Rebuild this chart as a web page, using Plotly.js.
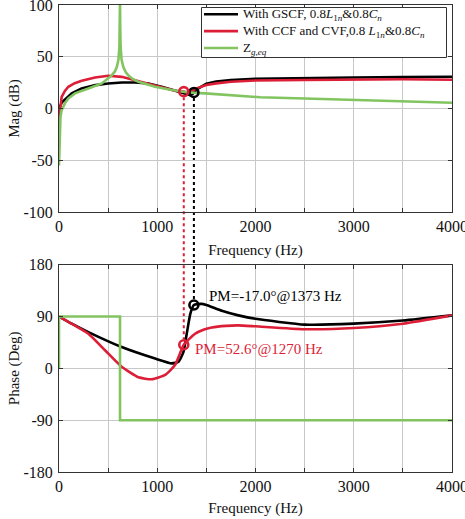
<!DOCTYPE html>
<html>
<head>
<meta charset="utf-8">
<script src="https://cdn.plot.ly/plotly-3.0.1.min.js"></script>
<style>html,body{margin:0;padding:0;background:#fff;}#chart{width:465px;height:519px;}</style>
</head>
<body>
<div id="chart"></div>
<script>
// ---- Magnitude data (dB) ----
const fMagBlack = [0,10,30,60,130,230,370,500,640,775,910,1045,1180,1250,1300,1335,1360,1373,1420,1450,1500,1600,1750,2000,2500,3000,3500,4000];
const magBlack  = [-15,2,6,8.5,14.6,19.4,22.6,24.2,25.2,25.2,24.2,21,17,15,13.6,13,14,15.5,19.5,21.5,24,26,27.5,28.8,29.6,30,30.4,30.7];

const fMagRed = [0,10,27,60,95,160,231,367,500,638,774,910,1046,1181,1270,1300,1350,1400,1500,1600,1750,2000,2500,3000,3500,4000];
const magRed  = [-12,0,11.3,17,21,24.5,26.8,30,31.6,30.6,27.4,24.2,21,17.1,16.3,15.8,17,19.5,22.8,24.3,25.8,27,27.6,28,28.2,27.8];

const fMagGreen = [0,5,15,27,60,95,163,299,435,537,570,588,605,615,619,621,623,627,637,655,680,706,750,808,978,1148,1318,1487,1750,2047,2500,3000,3500,4000];
const magGreen  = [-55,-25,-8,-1.5,5,9.7,14.6,19.4,24.2,32,36,40,47,60,80,105,80,60,47,40,35,32,28.5,25.8,21,17.8,15.5,14.6,12.8,10.9,9.6,8.2,6.8,5.6];

// ---- Phase data (deg) ----
const fPhBlack = [0,129,299,638,978,1148,1216,1267,1300,1337,1373,1450,1500,1657,1826,2000,2500,3000,3500,4000];
const phBlack  = [90,77.6,63,37,17,8.6,11.4,28.6,60,95,110,112,110,100,92,86,76,77.6,83,92];

const fPhRed = [0,129,299,468,638,808,944,1080,1181,1270,1385,1470,1555,1700,1826,2000,2500,3000,3500,4000];
const phRed  = [90,77.6,60,31.5,2.8,-15.5,-19,-11.5,5.7,41,60,67,71,73.8,74.6,73,68,70,77.6,92];

const fPhGreen = [0,0,621,621,4000];
const phGreen  = [0,90,90,-90,-90];

// ---- Phase-margin markers ----
const pmFreq   = [1373, 1270];
const pmMag    = [15.5, 16.3];
const pmPhase  = [110, 41];
const pmLabels = ['PM=-17.0°@1373 Hz', 'PM=52.6°@1270 Hz'];

// ---- Ticks ----
const magTicks = [-100,-50,0,50,100];
const magTickText = ['-100','-50','0','50','100'];
const phTicks = [-180,-90,0,90,180];
const phTickText = ['-180','-90','0','90','180'];

const names = [
  'With GSCF, 0.8<i>L</i><sub>1<i>n</i></sub>&amp;0.8<i>C</i><sub><i>n</i></sub>',
  'With CCF and CVF,0.8 <i>L</i><sub>1<i>n</i></sub>&amp;0.8<i>C</i><sub><i>n</i></sub>',
  'Z<sub><i>g,eq</i></sub>'
];

const BLACK = '#000000', RED = '#dc1e37', GREEN = '#82c460';
const COLORS = [BLACK, RED, GREEN];
const FONT = 'Liberation Serif, Times New Roman, serif';

const topDom = [0.5567, 1], botDom = [0, 0.4439];
const magRange = [-100, 100], phRange = [-180, 180];
function toPaper(v, r, d){ return d[0] + (v - r[0]) / (r[1] - r[0]) * (d[1] - d[0]); }
// pixel -> paper helpers for the legend box (plot area 59..452 x, 5..472 y)
const PX = px => (px - 59) / 393;
const PY = py => (472 - py) / 467;

const traces = [
  {x: fMagBlack, y: magBlack, xaxis:'x', yaxis:'y', mode:'lines', line:{color:BLACK, width:2.6}, name:names[0]},
  {x: fMagRed, y: magRed, xaxis:'x', yaxis:'y', mode:'lines', line:{color:RED, width:2.6}, name:names[1]},
  {x: fMagGreen, y: magGreen, xaxis:'x', yaxis:'y', mode:'lines', line:{color:GREEN, width:2.6}, name:names[2]},
  {x: fPhBlack, y: phBlack, xaxis:'x2', yaxis:'y2', mode:'lines', line:{color:BLACK, width:2.6, shape:'spline', smoothing:0.5}, name:names[0]},
  {x: fPhRed, y: phRed, xaxis:'x2', yaxis:'y2', mode:'lines', line:{color:RED, width:2.6, shape:'spline', smoothing:0.5}, name:names[1]},
  {x: fPhGreen, y: phGreen, xaxis:'x2', yaxis:'y2', mode:'lines', line:{color:GREEN, width:2.6}, name:names[2]},
  {x: pmFreq, y: pmMag, xaxis:'x', yaxis:'y', mode:'markers',
   marker:{symbol:'circle-open', size:9, color:[BLACK, RED], line:{width:2.6}}},
  {x: pmFreq, y: pmPhase, xaxis:'x2', yaxis:'y2', mode:'markers',
   marker:{symbol:'circle-open', size:9, color:[BLACK, RED], line:{width:2.6}}}
];

const shapes = pmFreq.map((f, i) => ({
  type:'line', xref:'x', yref:'paper', x0:f, x1:f,
  y0: toPaper(pmMag[i], magRange, topDom) - 0.012,
  y1: toPaper(pmPhase[i], phRange, botDom) + 0.012,
  line:{color: i === 0 ? BLACK : RED, width:2, dash:'dot'}, layer:'below'
}));

// legend box + samples (one multi-line text block)
const legRows = [14.2, 31.1, 48];
shapes.push({type:'rect', xref:'paper', yref:'paper', x0:PX(201.5), x1:PX(446.5), y0:PY(57.5), y1:PY(7.5),
  line:{color:'#333', width:1}, fillcolor:'#fff', layer:'above'});
legRows.forEach((r, i) => shapes.push({type:'line', xref:'paper', yref:'paper', x0:PX(204), x1:PX(238), y0:PY(r), y1:PY(r),
  line:{color:COLORS[i], width:2.6}, layer:'above'}));

const annotations = [
  {xref:'x2', yref:'y2', x:1510, y:125, text:pmLabels[0], showarrow:false, xanchor:'left', yanchor:'middle', font:{family:FONT, size:15, color:BLACK}},
  {xref:'x2', yref:'y2', x:1360, y:33, text:pmLabels[1], showarrow:false, xanchor:'left', yanchor:'middle', font:{family:FONT, size:15, color:RED}},
  {xref:'paper', yref:'paper', x:PX(240.5), y:PY(legRows[1]), text:names.join('<br>'), showarrow:false, align:'left',
   xanchor:'left', yanchor:'middle', font:{family:FONT, size:13, color:'#111'}}
];

const axisCommon = {
  showline:true, linecolor:'#333', linewidth:1, mirror:'ticks',
  ticks:'inside', ticklen:4, tickcolor:'#333',
  showgrid:true, gridcolor:'#c8c8c8', gridwidth:1, zeroline:false,
  tickfont:{family:FONT, size:16, color:'#111'}, ticklabeloverflow:'allow'
};
const xCommon = Object.assign({}, axisCommon, {domain:[0,1], range:[0,4000], tickmode:'linear', tick0:0, dtick:1000,
  minor:{tickmode:'linear', tick0:0, dtick:500, showgrid:true, gridcolor:'#c8c8c8', ticks:'inside', ticklen:4, tickcolor:'#333'}});

const layout = {
  width:465, height:519,
  margin:{l:59, r:13, t:5, b:47},
  paper_bgcolor:'#fff', plot_bgcolor:'#fff',
  font:{family:FONT, size:15, color:'#111'},
  showlegend:false,
  xaxis: Object.assign({}, xCommon, {anchor:'y',
         title:{text:'Frequency (Hz)', font:{family:FONT, size:15}, standoff:10}}),
  yaxis: Object.assign({}, axisCommon, {anchor:'x', domain:topDom, range:magRange, tickmode:'array', tickvals:magTicks, ticktext:magTickText,
         ticklabelstandoff:2, title:{text:'Mag (dB)', font:{family:FONT, size:15}, standoff:0}}),
  xaxis2: Object.assign({}, xCommon, {anchor:'y2',
         title:{text:'Frequency (Hz)', font:{family:FONT, size:15}, standoff:8}}),
  yaxis2: Object.assign({}, axisCommon, {anchor:'x2', domain:botDom, range:phRange, tickmode:'array', tickvals:phTicks, ticktext:phTickText,
         ticklabelstandoff:2, title:{text:'Phase (Deg)', font:{family:FONT, size:15}, standoff:0}}),
  shapes: shapes,
  annotations: annotations
};

Plotly.newPlot('chart', traces, layout, {displayModeBar:false, staticPlot:true});
</script>
</body>
</html>
